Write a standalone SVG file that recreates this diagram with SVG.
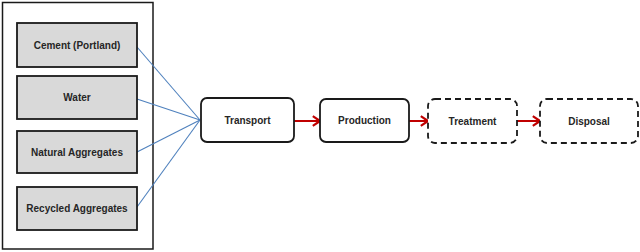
<svg xmlns="http://www.w3.org/2000/svg" width="640" height="252" viewBox="0 0 640 252">
<defs>
<style>
.lbl{font-family:"Liberation Sans",Arial,sans-serif;font-weight:bold;font-size:10px;fill:#262626;text-anchor:middle}
.in{fill:#d9d9d9;stroke:#1a1a1a;stroke-width:1.8}
.proc{fill:#fff;stroke:#1a1a1a;stroke-width:1.8}
.dash{fill:#fff;stroke:#1a1a1a;stroke-width:1.8;stroke-dasharray:6 4}
.blue{stroke:#4f81bd;stroke-width:1.1;fill:none}
.red{stroke:#c00000;stroke-width:2;fill:none}
</style>
<marker id="ah" viewBox="0 0 10 10" refX="9" refY="5" markerWidth="6" markerHeight="6" orient="auto" markerUnits="strokeWidth">
<path d="M3,1 L9,5 L3,9" fill="none" stroke="#c00000" stroke-width="1.8"/>
</marker>
</defs>
<rect width="640" height="252" fill="#fff"/>
<g id="container"><rect x="2.5" y="2.5" width="150.5" height="246.5" fill="#fff" stroke="#1a1a1a" stroke-width="1.5"/></g>
<g id="connectors">
<line class="blue" x1="137" y1="47" x2="200" y2="120"/>
<line class="blue" x1="137" y1="99" x2="200" y2="120"/>
<line class="blue" x1="137" y1="152" x2="200" y2="120"/>
<line class="blue" x1="137" y1="207" x2="200" y2="120"/>
<line class="red" x1="294" y1="121" x2="320" y2="121" marker-end="url(#ah)"/>
<line class="red" x1="409" y1="121" x2="428" y2="121" marker-end="url(#ah)"/>
<line class="red" x1="517" y1="121" x2="540" y2="121" marker-end="url(#ah)"/>
</g>
<g id="cement"><rect class="in" x="17" y="23" width="120" height="44"/><text class="lbl" x="77" y="48.5">Cement (Portland)</text></g>
<g id="water"><rect class="in" x="17" y="76" width="120" height="43"/><text class="lbl" x="77" y="101">Water</text></g>
<g id="natural"><rect class="in" x="17" y="131" width="120" height="42"/><text class="lbl" x="77" y="155.5">Natural Aggregates</text></g>
<g id="recycled"><rect class="in" x="17" y="187" width="120" height="43"/><text class="lbl" x="77" y="212">Recycled Aggregates</text></g>
<g id="transport"><rect class="proc" x="201" y="98" width="93" height="44" rx="6"/><text class="lbl" x="247.5" y="123.5">Transport</text></g>
<g id="production"><rect class="proc" x="320" y="99" width="89" height="43" rx="6"/><text class="lbl" x="364.5" y="124">Production</text></g>
<g id="treatment"><rect class="dash" x="428" y="99" width="89" height="44" rx="7"/><text class="lbl" x="472.5" y="124.5">Treatment</text></g>
<g id="disposal"><rect class="dash" x="540" y="99" width="98" height="44" rx="7"/><text class="lbl" x="589" y="124.5">Disposal</text></g>
</svg>
